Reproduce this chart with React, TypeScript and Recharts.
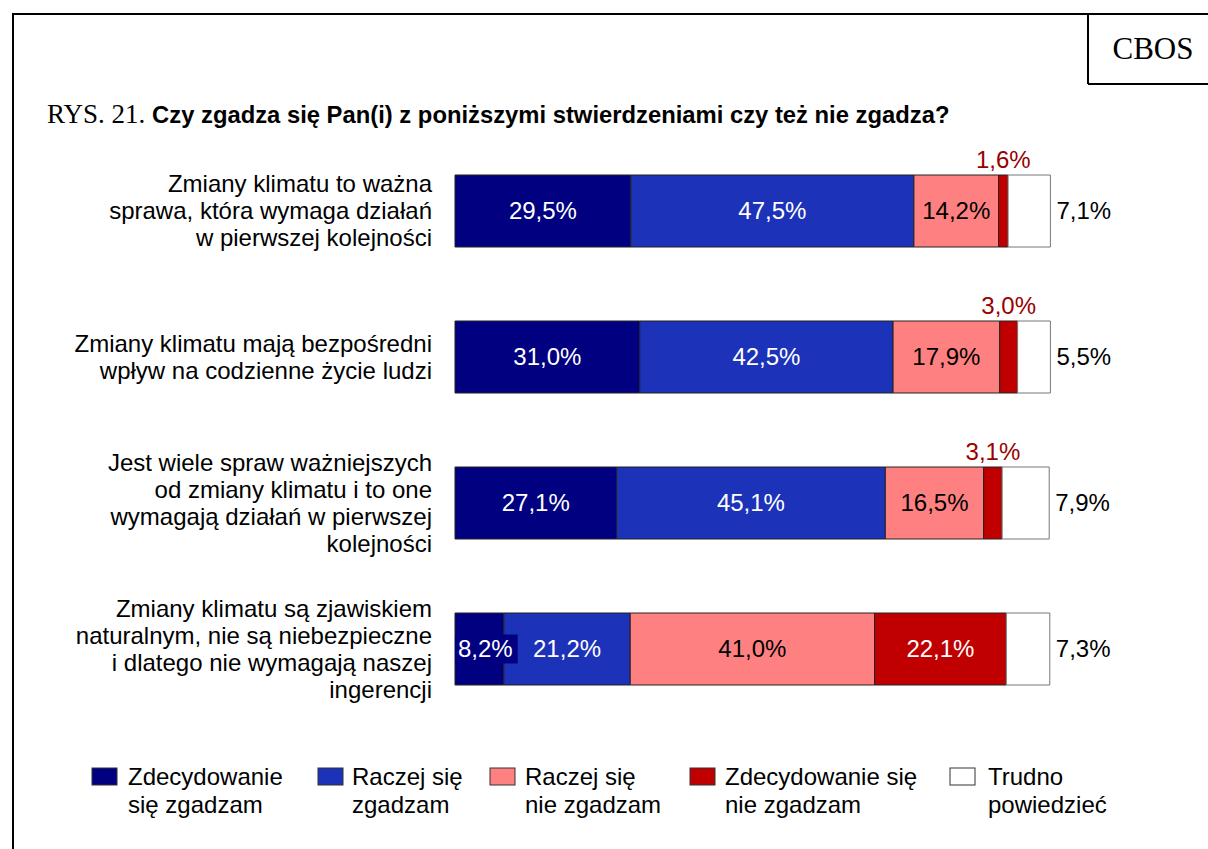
import React from "react";
import { BarChart, Bar, XAxis, YAxis, LabelList } from "recharts";

const categories: string[][] = [
  ["Zmiany klimatu to ważna", "sprawa, która wymaga działań", "w pierwszej kolejności"],
  ["Zmiany klimatu mają bezpośredni", "wpływ na codzienne życie ludzi"],
  ["Jest wiele spraw ważniejszych", "od zmiany klimatu i to one", "wymagają działań w pierwszej", "kolejności"],
  ["Zmiany klimatu są zjawiskiem", "naturalnym, nie są niebezpieczne", "i dlatego nie wymagają naszej", "ingerencji"],
];
const strongAgree = [29.5, 31.0, 27.1, 8.2];
const ratherAgree = [47.5, 42.5, 45.1, 21.2];
const ratherDisagree = [14.2, 17.9, 16.5, 41.0];
const strongDisagree = [1.6, 3.0, 3.1, 22.1];
const hardToSay = [7.1, 5.5, 7.9, 7.3];

const seriesNames = [
  ["Zdecydowanie", "się zgadzam"],
  ["Raczej się", "zgadzam"],
  ["Raczej się", "nie zgadzam"],
  ["Zdecydowanie się", "nie zgadzam"],
  ["Trudno", "powiedzieć"],
];
const seriesKeys = ["sa", "ra", "rd", "sd", "hs"];
const seriesColors = ["#000080", "#1C32B8", "#FF8080", "#C00000", "#FFFFFF"];
const labelColors = ["#FFFFFF", "#FFFFFF", "#000000", "#FFFFFF", "#000000"];

const data = categories.map((c, i) => ({
  name: String(i),
  sa: strongAgree[i],
  ra: ratherAgree[i],
  rd: ratherDisagree[i],
  sd: strongDisagree[i],
  hs: hardToSay[i],
}));

const FONT = "Arial, 'Liberation Sans', Helvetica, sans-serif";
const SERIF = "'Times New Roman', 'Liberation Serif', serif";
const fmt = (v: number) => v.toFixed(1).replace(".", ",") + "%";
const estWidth = (s: string, fs: number) => {
  let w = 0;
  for (const ch of s) {
    if (ch === ",") w += 0.278;
    else if (ch === "%") w += 0.889;
    else w += 0.556;
  }
  return w * fs;
};

const makeLabel = (si: number) => (props: any) => {
  const { x, y, width, height, value } = props;
  const txt = fmt(Number(value));
  const cx = Number(x) + Number(width) / 2;
  const cy = Number(y) + Number(height) / 2;
  const fs = 24;
  if (si === 4) {
    return (
      <text x={Number(x) + Number(width) + 6} y={cy + 8} fontSize={fs} fontFamily={FONT} fill="#000">
        {txt}
      </text>
    );
  }
  if (si === 3 && Number(value) < 5) {
    return (
      <text x={cx} y={Number(y) - 7} fontSize={fs} fontFamily={FONT} fill="#990000" textAnchor="middle">
        {txt}
      </text>
    );
  }
  const tw = estWidth(txt, fs);
  if (tw > Number(width)) {
    return (
      <g>
        <rect x={Number(x)} y={cy - 14.5} width={tw + 8} height={29} fill={seriesColors[si]} />
        <text x={Number(x) + 3} y={cy + 8} fontSize={fs} fontFamily={FONT} fill={labelColors[si]}>
          {txt}
        </text>
      </g>
    );
  }
  return (
    <text x={cx} y={cy + 8} fontSize={fs} fontFamily={FONT} fill={labelColors[si]} textAnchor="middle">
      {txt}
    </text>
  );
};

const CategoryTick = (props: any) => {
  const { x, y, payload } = props;
  const lines = categories[Number(payload.value)];
  const lh = 27;
  const start = Number(y) - ((lines.length - 1) * lh) / 2;
  return (
    <text x={Number(x)} y={start} fontSize={24} fontFamily={FONT} fill="#000" textAnchor="end">
      {lines.map((l, i) => (
        <tspan key={i} x={Number(x)} y={start + i * lh + 8}>
          {l}
        </tspan>
      ))}
    </text>
  );
};

const legendSquareX = [92, 318, 490, 690, 950];
const legendTextX = [128, 352, 525, 725, 988];
const legendTop = 768;

export default function App() {
  return (
    <div style={{ position: "absolute", left: 0, top: 0, width: 1208, height: 849, background: "#fff", overflow: "hidden" }}>
      <svg width={1208} height={849} style={{ position: "absolute", left: 0, top: 0 }}>
        <line x1={13} y1={14} x2={1208} y2={14} stroke="#000" strokeWidth={2} />
        <line x1={13} y1={13} x2={13} y2={849} stroke="#000" strokeWidth={2} />
        <line x1={1088} y1={14} x2={1088} y2={84} stroke="#000" strokeWidth={2} />
        <line x1={1088} y1={84} x2={1208} y2={84} stroke="#000" strokeWidth={2} />
        <text x={1153} y={59} fontSize={31} fontFamily={SERIF} textAnchor="middle">
          CBOS
        </text>
        <text x={47} y={123} fill="#000">
          <tspan fontFamily={SERIF} fontSize={27}>RYS. 21. </tspan>
          <tspan fontFamily={FONT} fontWeight="bold" fontSize={23.8}>
            Czy zgadza się Pan(i) z poniższymi stwierdzeniami czy też nie zgadza?
          </tspan>
        </text>
        {seriesNames.map((n, i) => (
          <g key={i}>
            <rect x={legendSquareX[i]} y={legendTop} width={25} height={17} fill={seriesColors[i]} stroke="#333" strokeWidth={1} />
            <text x={legendTextX[i]} y={legendTop + 17} fontSize={24} fontFamily={FONT} fill="#000">
              <tspan x={legendTextX[i]} y={legendTop + 17}>{n[0]}</tspan>
              <tspan x={legendTextX[i]} y={legendTop + 45}>{n[1]}</tspan>
            </text>
          </g>
        ))}
      </svg>
      <div style={{ position: "absolute", left: 0, top: 0 }}>
        <BarChart
          width={1208}
          height={849}
          data={data}
          layout="vertical"
          margin={{ top: 138, right: 157, bottom: 127, left: 0 }}
          barCategoryGap={0}
        >
          <XAxis type="number" domain={[0, 100]} hide />
          <YAxis
            type="category"
            dataKey="name"
            width={455}
            axisLine={false}
            tickLine={false}
            tickSize={0}
            tickMargin={23}
            tick={<CategoryTick />}
            interval={0}
          />
          {seriesKeys.map((k, i) => (
            <Bar
              key={k}
              dataKey={k}
              name={seriesNames[i].join(" ")}
              stackId="a"
              fill={seriesColors[i]}
              stroke={i === 4 ? "#777" : "#222"}
              strokeWidth={1}
              barSize={72}
              isAnimationActive={false}
            >
              <LabelList dataKey={k} content={makeLabel(i)} />
            </Bar>
          ))}
        </BarChart>
      </div>
    </div>
  );
}
